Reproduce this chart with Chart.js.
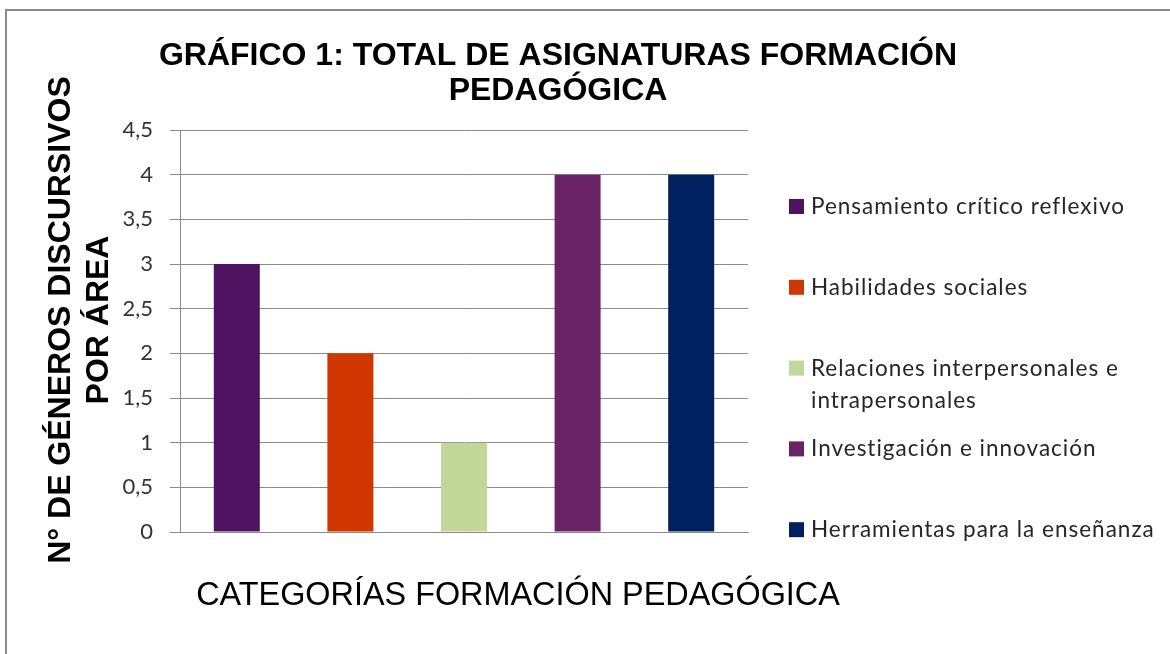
<!DOCTYPE html>
<html>
<head>
<meta charset="utf-8">
<script src="https://cdn.jsdelivr.net/npm/chart.js@4.4.1/dist/chart.umd.min.js"></script>
<style>
  html, body { margin: 0; padding: 0; background: #fff; }
  #wrap { position: relative; width: 1170px; height: 654px; overflow: hidden; }
  #frame { position: absolute; left: 5px; top: 9px; width: 1200px; height: 700px;
           border-left: 2px solid #8c8c8c; border-top: 2px solid #8c8c8c; pointer-events: none; }
  canvas { position: absolute; left: 0; top: 0; }
</style>
</head>
<body>
<div id="wrap">
  <canvas id="c" width="1170" height="654"></canvas>
  <div id="frame"></div>
</div>
<script>
const chartTitle = ['GRÁFICO 1: TOTAL DE ASIGNATURAS FORMACIÓN', 'PEDAGÓGICA'];
const xTitle = 'CATEGORÍAS FORMACIÓN PEDAGÓGICA';
const yTitle = ['N° DE GÉNEROS DISCURSIVOS', 'POR ÁREA'];
const categories = ['Pensamiento crítico reflexivo', 'Habilidades sociales',
  'Relaciones interpersonales e intrapersonales', 'Investigación e innovación',
  'Herramientas para la enseñanza'];
const values = [3, 2, 1, 4, 4];
const colors = ['#4e1461', '#d03600', '#c4d79b', '#6b2367', '#00205f'];
const yTicks = [0, 0.5, 1, 1.5, 2, 2.5, 3, 3.5, 4, 4.5];
const yTickLabels = ['0', '0,5', '1', '1,5', '2', '2,5', '3', '3,5', '4', '4,5'];

const SMALL_FONT = '"Lato", "Open Sans", sans-serif';
const BIG_FONT = '"Liberation Sans", Arial, sans-serif';

function wrapText(ctx, text, maxW) {
  const words = text.split(' ');
  const lines = [];
  let cur = '';
  for (const w of words) {
    const t = cur ? cur + ' ' + w : w;
    if (ctx.measureText(t).width > maxW && cur) { lines.push(cur); cur = w; }
    else cur = t;
  }
  if (cur) lines.push(cur);
  return lines;
}

const textPlugin = {
  id: 'textPlugin',
  afterDraw(chart) {
    const ctx = chart.ctx;
    ctx.save();
    ctx.fillStyle = '#000';
    ctx.textAlign = 'center';
    ctx.textBaseline = 'alphabetic';
    // main title
    ctx.font = 'bold 32px ' + BIG_FONT;
    ctx.fillText(chartTitle[0], 558, 65);
    ctx.fillText(chartTitle[1], 558, 100);
    // x title
    ctx.font = '32.4px ' + BIG_FONT;
    ctx.fillText(xTitle, 518, 605);
    // y title
    ctx.font = 'bold 32px ' + BIG_FONT;
    ctx.save();
    ctx.translate(0, 320);
    ctx.rotate(-Math.PI / 2);
    ctx.fillText(yTitle[0], 0, 70);
    ctx.fillText(yTitle[1], 0, 108);
    ctx.restore();

    // legend
    ctx.font = '22.5px ' + SMALL_FONT;
    try { ctx.letterSpacing = '1px'; } catch (e) {}
    ctx.textAlign = 'left';
    const ds = chart.data.datasets[0];
    chart.data.labels.forEach((lab, i) => {
      const base = 214 + i * 80.8;
      ctx.fillStyle = ds.backgroundColor[i];
      ctx.fillRect(789, base - 15, 15, 15);
      ctx.fillStyle = '#262626';
      const lines = wrapText(ctx, lab, 352);
      lines.forEach((ln, k) => ctx.fillText(ln, 811, base + k * 32));
    });
    ctx.restore();
  }
};

new Chart(document.getElementById('c'), {
  type: 'bar',
  data: {
    labels: categories,
    datasets: [{
      data: values,
      backgroundColor: colors,
      borderWidth: 0,
      barPercentage: 0.405,
      categoryPercentage: 1
    }]
  },
  options: {
    responsive: false,
    animation: false,
    devicePixelRatio: 1,
    layout: { padding: { left: 0, top: 130, right: 422, bottom: 122 } },
    plugins: { legend: { display: false }, title: { display: false }, tooltip: { enabled: false } },
    scales: {
      x: {
        ticks: { display: false },
        grid: { display: false },
        border: { display: true, color: '#8c8c8c', width: 1 },
        afterFit(s) { s.height = 0; }
      },
      y: {
        min: 0, max: 4.5,
        afterBuildTicks(s) { s.ticks = yTicks.map(v => ({ value: v })); },
        ticks: {
          padding: 17,
          color: '#333',
          font: { family: SMALL_FONT, size: 22 },
          callback: (v, i) => yTickLabels[yTicks.indexOf(v)]
        },
        grid: { color: '#8c8c8c', lineWidth: 1, tickLength: 10, drawTicks: true },
        border: { display: true, color: '#8c8c8c', width: 1 },
        afterFit(s) { s.width = 180; }
      }
    }
  },
  plugins: [textPlugin]
});
</script>
</body>
</html>
